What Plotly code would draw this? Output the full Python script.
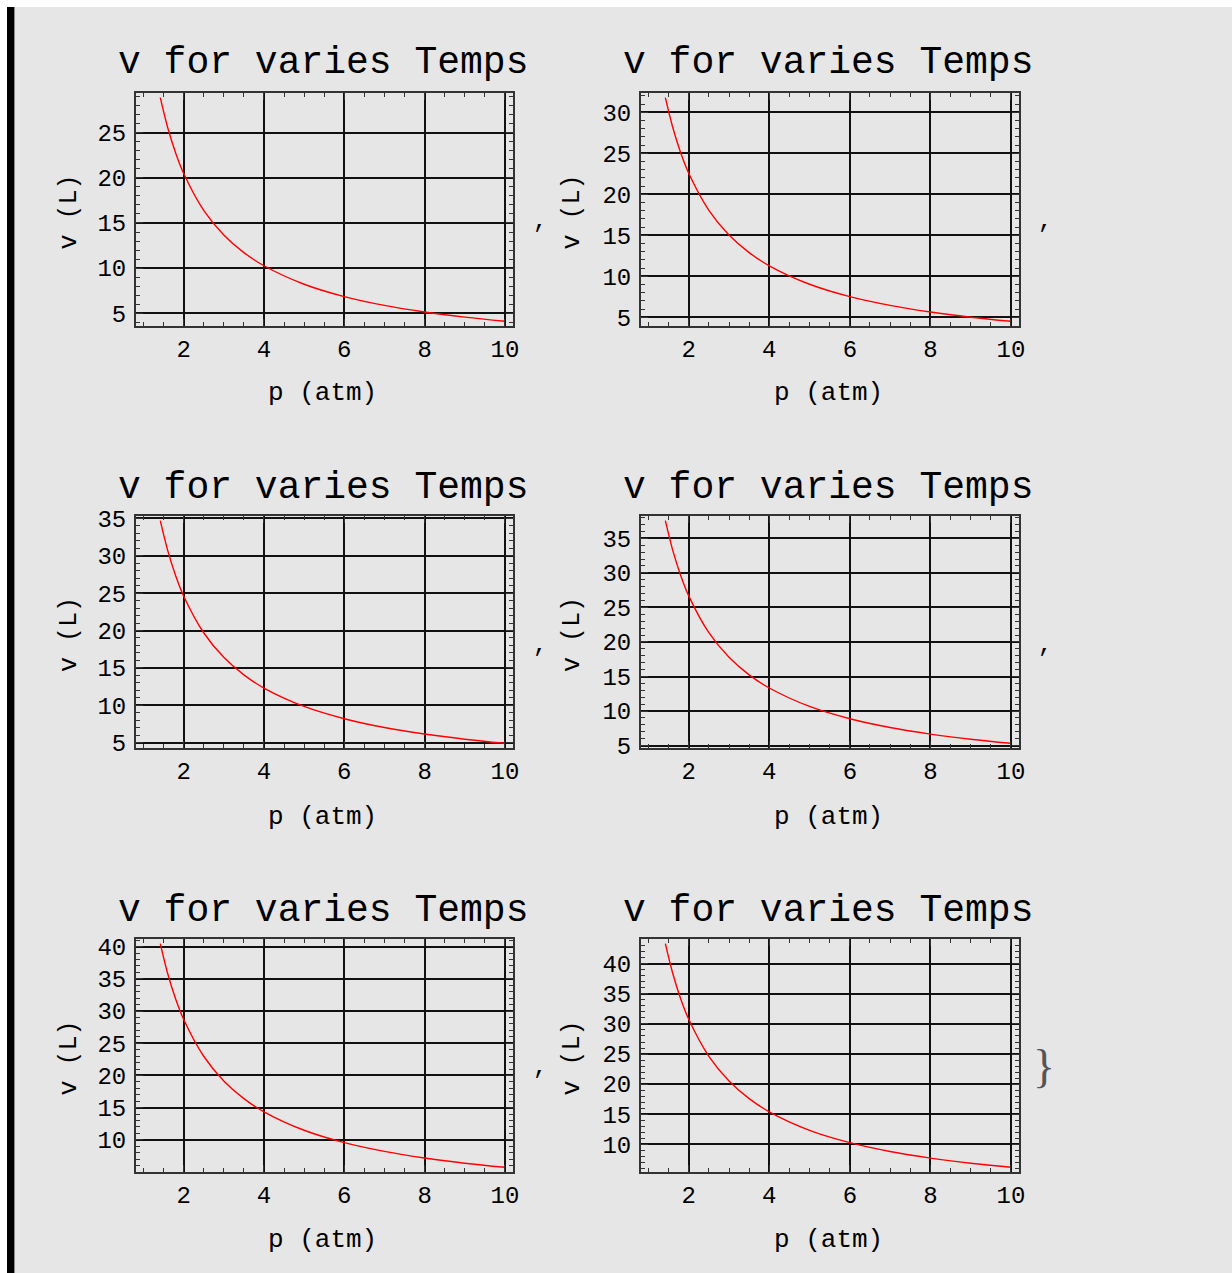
import plotly.graph_objects as go

# ---------------- data ----------------
pressure = [1.42, 1.6, 1.8, 2.0, 2.5, 3.0, 3.5, 4.0, 5.0, 6.0, 7.0, 8.0, 9.0, 10.0]

volume_1 = [28.89, 25.64, 22.79, 20.52, 16.41, 13.68, 11.72, 10.26, 8.21, 6.84, 5.86, 5.13, 4.56, 4.10]
volume_2 = [31.78, 28.21, 25.07, 22.57, 18.05, 15.04, 12.89, 11.28, 9.03, 7.52, 6.45, 5.64, 5.01, 4.51]
volume_3 = [34.68, 30.78, 27.36, 24.62, 19.70, 16.41, 14.07, 12.31, 9.85, 8.21, 7.03, 6.16, 5.47, 4.92]
volume_4 = [37.56, 33.34, 29.63, 26.67, 21.34, 17.78, 15.24, 13.34, 10.67, 8.89, 7.62, 6.67, 5.93, 5.33]
volume_5 = [40.45, 35.90, 31.91, 28.72, 22.98, 19.15, 16.41, 14.36, 11.49, 9.57, 8.21, 7.18, 6.38, 5.74]
volume_6 = [43.35, 38.47, 34.19, 30.78, 24.62, 20.52, 17.59, 15.39, 12.31, 10.26, 8.79, 7.69, 6.84, 6.16]

series = [volume_1, volume_2, volume_3, volume_4, volume_5, volume_6]

plot_title = "v for varies Temps"
x_title = "p (atm)"
y_title = "v (L)"
x_range = [0.815, 10.2]

# ---------------- layout geometry (page pixels) ----------------
W, H = 1232, 1273
FONT = "Liberation Mono, Courier New, monospace"
BG = "#e6e6e6"

# frame boxes: left, right, top, bottom
frames = [
    (136, 513, 93, 326), (641, 1019, 93, 326),
    (136, 513, 516, 748), (641, 1019, 516, 748),
    (136, 513, 939, 1172), (641, 1019, 939, 1172),
]
title_xy = [(323, 63), (828, 63), (323, 487), (828, 487), (323, 910), (828, 910)]
xtitle_xy = [(322, 393), (828, 393), (322, 817), (828, 817), (322, 1240), (828, 1240)]
ytitle_x = [69, 572, 69, 572, 69, 572]


def px(x):
    return x / W


def py(y):
    return 1 - y / H


fig = go.Figure()
layout = dict(
    width=W, height=H,
    margin=dict(l=0, r=0, t=0, b=0, pad=0, autoexpand=False),
    paper_bgcolor=BG,
    plot_bgcolor="rgba(0,0,0,0)",
    showlegend=False,
    font=dict(family=FONT, color="black", size=24),
)

annotations = []
for i, vals in enumerate(series):
    n = i + 1
    xa = "xaxis" if n == 1 else f"xaxis{n}"
    ya = "yaxis" if n == 1 else f"yaxis{n}"
    xref = "x" if n == 1 else f"x{n}"
    yref = "y" if n == 1 else f"y{n}"
    l, r, t, b = frames[i]

    fig.add_trace(go.Scatter(
        x=pressure, y=vals, mode="lines",
        line=dict(color="#ff0000", width=1.4, shape="spline", smoothing=1.0),
        xaxis=xref, yaxis=yref, hoverinfo="skip",
    ))

    vmin, vmax = min(vals), max(vals)
    pad = 0.021 * (vmax - vmin)
    y_range = [vmin - pad, vmax + pad]

    common = dict(
        showline=True, linecolor="#333333", linewidth=2, mirror="ticks",
        ticks="inside", ticklen=7, tickwidth=1.2, tickcolor="#333333",
        showgrid=True, gridcolor="#111111", gridwidth=1.6,
        zeroline=False, automargin=False,
        tickfont=dict(family=FONT, size=24, color="black"),
    )
    layout[xa] = dict(
        common, domain=[px(l), px(r)], range=x_range, anchor=yref,
        tick0=0, dtick=2, ticklabelstandoff=0,
        minor=dict(dtick=0.5, ticks="inside", ticklen=4, tickcolor="#333333",
                   tickwidth=1, showgrid=False),
    )
    layout[ya] = dict(
        common, domain=[py(b), py(t)], range=y_range, anchor=xref,
        tick0=0, dtick=5, ticklabelstandoff=3,
        minor=dict(dtick=1, ticks="inside", ticklen=4, tickcolor="#333333",
                   tickwidth=1, showgrid=False),
    )

    tx, ty = title_xy[i]
    annotations.append(dict(text=plot_title, x=px(tx), y=py(ty), xref="paper", yref="paper",
                            showarrow=False, xanchor="center", yanchor="middle",
                            font=dict(family=FONT, size=38, color="black")))
    ax_, ay_ = xtitle_xy[i]
    annotations.append(dict(text=x_title, x=px(ax_), y=py(ay_), xref="paper", yref="paper",
                            showarrow=False, xanchor="center", yanchor="middle",
                            font=dict(family=FONT, size=26, color="black")))
    annotations.append(dict(text=y_title, x=px(ytitle_x[i]), y=py((t + b) / 2 + 3),
                            xref="paper", yref="paper", textangle=-90,
                            showarrow=False, xanchor="center", yanchor="middle",
                            font=dict(family=FONT, size=25, color="black")))

# separators of the list output
for cx, cy in [(540, 221), (1045, 221), (540, 645), (1045, 645), (540, 1067)]:
    annotations.append(dict(text=",", x=px(cx), y=py(cy), xref="paper", yref="paper",
                            showarrow=False, xanchor="center", yanchor="middle",
                            font=dict(family=FONT, size=24, color="black")))
annotations.append(dict(text="}", x=px(1044), y=py(1066), xref="paper", yref="paper",
                        showarrow=False, xanchor="center", yanchor="middle",
                        font=dict(family="Liberation Serif", size=46, color="#555555")))

layout["annotations"] = annotations
layout["shapes"] = [
    dict(type="rect", xref="paper", yref="paper", x0=0, x1=1, y0=py(7), y1=1,
         fillcolor="white", line=dict(width=0), layer="below"),
    dict(type="rect", xref="paper", yref="paper", x0=0, x1=px(7), y0=0, y1=1,
         fillcolor="white", line=dict(width=0), layer="below"),
    dict(type="rect", xref="paper", yref="paper", x0=px(7), x1=px(14), y0=0, y1=py(7),
         fillcolor="black", line=dict(width=0), layer="below"),
    dict(type="rect", xref="paper", yref="paper", x0=px(14), x1=px(15), y0=0, y1=py(7),
         fillcolor="#8a8a8a", line=dict(width=0), layer="below"),
]

fig.update_layout(**layout)
fig.write_html("out.html")
